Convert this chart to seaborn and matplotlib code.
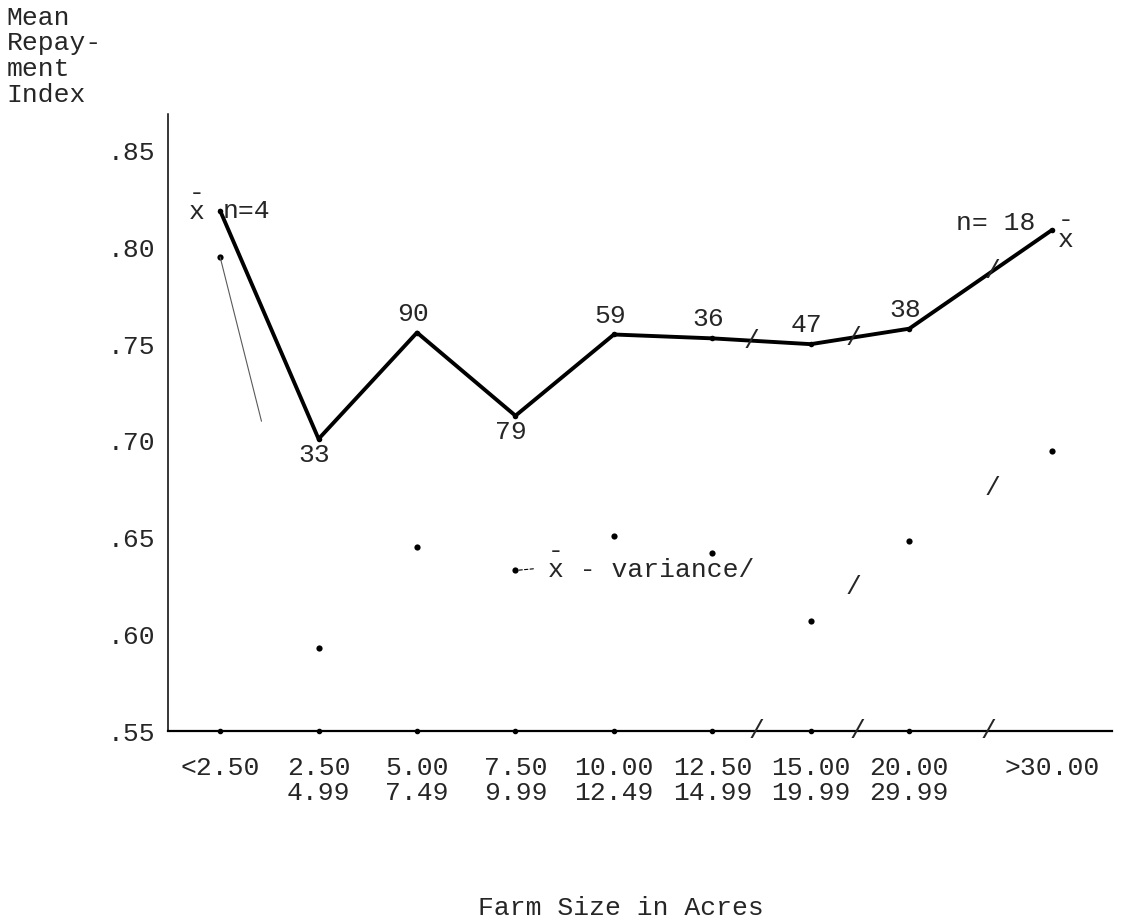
import numpy as np
import pandas as pd
import matplotlib
matplotlib.use("Agg")
import matplotlib.pyplot as plt
import seaborn as sns

# Farm size classes (acres) and where each sits on the broken axis
size_labels = ["<2.50", "2.50\n4.99", "5.00\n7.49", "7.50\n9.99", "10.00\n12.49",
               "12.50\n14.99", "15.00\n19.99", "20.00\n29.99", ">30.00"]
size_pos = [0, 1, 2, 3, 4, 5, 6, 7, 8.45]

# farms per class
n_farms = [4, 33, 90, 79, 59, 36, 47, 38, 18]

# mean repayment index per class
mean_index = [0.819, 0.701, 0.756, 0.713, 0.755, 0.753, 0.750, 0.758, 0.809]

# mean minus variance
low_index = [0.795, 0.593, 0.645, 0.633, 0.651, 0.642, 0.607, 0.648, 0.695]

# scale breaks (slashes) on the curves and on the x axis
line_breaks = [5.4, 6.43, 7.85]
axis_breaks = [5.45, 6.47, 7.8]

y_ticks = [0.55, 0.60, 0.65, 0.70, 0.75, 0.80, 0.85]

df = pd.DataFrame({"pos": size_pos, "mean": mean_index, "low": low_index, "n": n_farms})

sns.set_style("white")
plt.rcParams["font.family"] = ["Liberation Mono", "DejaVu Sans Mono"]
FS = 19

fig = plt.figure(figsize=(11.22, 9.23), dpi=100)
ax = fig.add_axes([0.1497, 0.2080, 0.8414, 0.6685])

# mean curve
sns.lineplot(data=df, x="pos", y="mean", color="black", linewidth=2.8,
             marker="o", markersize=4, markeredgewidth=0, ax=ax)
# mean - variance points (the connecting line barely survives in the original)
sns.scatterplot(data=df, x="pos", y="low", color="black", s=20, linewidth=0, ax=ax)
t = 0.42
ax.plot([size_pos[0], size_pos[0] + t * (size_pos[1] - size_pos[0])],
        [low_index[0], low_index[0] + t * (low_index[1] - low_index[0])],
        color="0.35", linewidth=0.8)

# slashes marking the scale breaks
for b in line_breaks:
    ax.text(b, np.interp(b, size_pos, mean_index), "/", ha="center", va="center", fontsize=FS)
for b in line_breaks[1:]:
    ax.text(b, np.interp(b, size_pos, low_index), "/", ha="center", va="center", fontsize=FS)
for b in axis_breaks:
    ax.text(b, y_ticks[0], "/", ha="center", va="center", fontsize=FS)
ax.plot(size_pos[:-1], [y_ticks[0]] * (len(size_pos) - 1), "o", color="black",
        markersize=3, clip_on=False)


def xbar(x, y, dx, dy):
    # typed "x" with a bar struck above it
    ax.annotate("-\nx", (x, y), xytext=(dx, dy), textcoords="offset points",
                ha="center", va="center", fontsize=FS, linespacing=0.75)


# sample sizes next to the points
for i in range(1, len(size_pos) - 1):
    if i in (1, 3):
        ax.annotate(str(n_farms[i]), (size_pos[i], mean_index[i]), xytext=(-3, -3),
                    textcoords="offset points", ha="center", va="top", fontsize=FS)
    else:
        ax.annotate(str(n_farms[i]), (size_pos[i], mean_index[i]), xytext=(-3, 5),
                    textcoords="offset points", ha="center", va="bottom", fontsize=FS)

ax.annotate("n=%d" % n_farms[0], (size_pos[0], mean_index[0]), xytext=(2, 0),
            textcoords="offset points", ha="left", va="center", fontsize=FS)
xbar(size_pos[0], mean_index[0], -17, 6)
ax.annotate("n= %d" % n_farms[-1], (size_pos[-1], mean_index[-1]), xytext=(-12, 5),
            textcoords="offset points", ha="right", va="center", fontsize=FS)
xbar(size_pos[-1], mean_index[-1], 10, 0)

# label of the lower curve, with its leader to the 7.50 point
lab_x, lab_y = 3.33, 0.627
ax.annotate("", (size_pos[3], low_index[3]), xytext=(lab_x - 0.12, lab_y + 0.007),
            arrowprops=dict(arrowstyle="-", linestyle=(0, (3, 2)), color="black", linewidth=0.8))
ax.text(lab_x, lab_y, "-\nx - variance/", ha="left", va="bottom", fontsize=FS,
        linespacing=0.75, multialignment="left", transform=ax.transData)

# axes
ax.set_xlim(-0.53, 9.06)
ax.set_ylim(0.55, 0.869)
ax.set_yticks(y_ticks, [("%.2f" % v)[1:] for v in y_ticks])
ax.set_xticks(size_pos, size_labels)
ax.tick_params(axis="y", direction="out", length=8, width=1.2, pad=1, labelsize=FS, color="black")
ax.tick_params(axis="x", length=0, pad=18, labelsize=FS)
for lab in ax.get_xticklabels():
    lab.set_linespacing(1.05)
sns.despine(ax=ax)
ax.spines["left"].set_linewidth(1.1)
ax.spines["bottom"].set_linewidth(1.6)
ax.spines["left"].set_color("black")
ax.spines["bottom"].set_color("black")
ax.set_xlabel("")
ax.set_ylabel("")

fig.text(0.006, 0.994, "Mean\nRepay-\nment\nIndex", ha="left", va="top", fontsize=FS, linespacing=1.1)
fig.text(0.553, 0.016, "Farm Size in Acres", ha="center", va="center", fontsize=FS)

fig.savefig("out.png", dpi=100, facecolor="white")
